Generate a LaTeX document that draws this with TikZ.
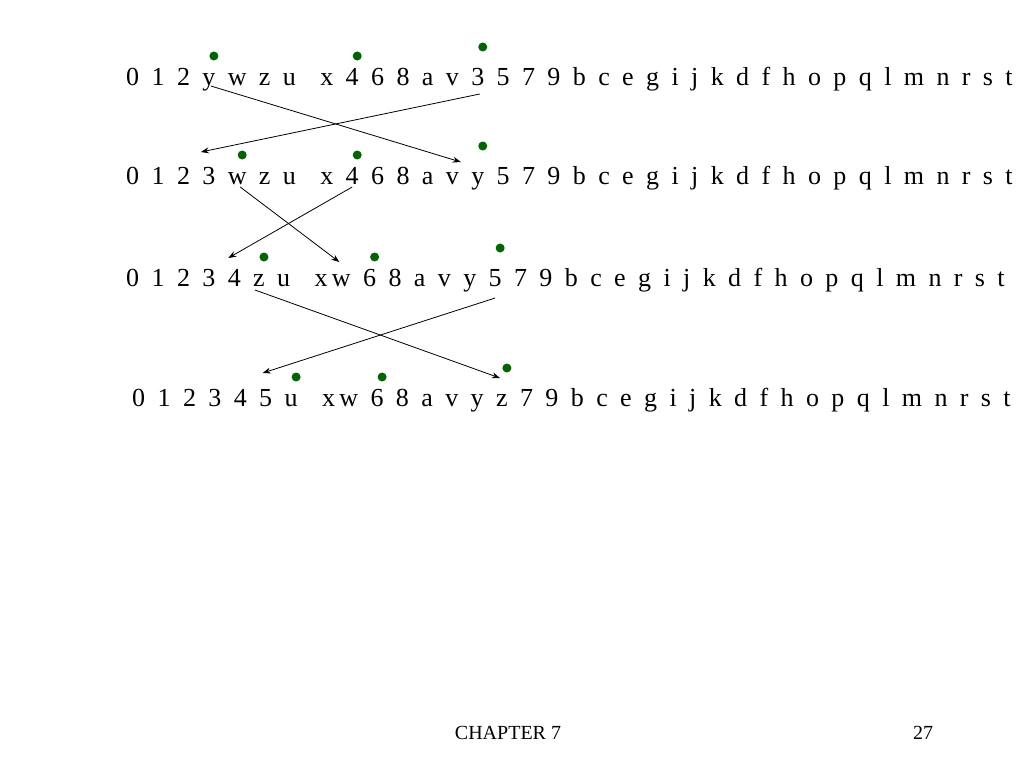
\documentclass[tikz,border=0pt]{standalone}
\usepackage{fontspec}
\setmainfont{Liberation Serif}
\usetikzlibrary{positioning, arrows.meta}

% one row of letters, one node per letter
\newcommand{\letterrow}[6]{%
    \foreach \c [count=\i] in {#4} {
        \pgfmathtruncatemacro{\prev}{\i-1}
        \ifnum\i=1
            \node[letter, anchor=base west] (#1-\i) at (#2,#3) {\c};
        \else
            \ifnum\i=#5
                \node[letter, base right=24pt of #1-\prev] (#1-\i) {\c};
            \else\ifnum\i=#6
                \node[letter, base right=4pt of #1-\prev] (#1-\i) {\c};
            \else
                \node[letter, base right=12pt of #1-\prev] (#1-\i) {\c};
            \fi\fi
        \fi
    }%
}

\begin{document}
\begin{tikzpicture}[
            x=1pt, y=-1pt,
            >={Stealth[length=8pt, width=6pt]},
            letter/.style={inner sep=0pt, font=\fontsize{26}{30}\selectfont},
            mark dot/.style={circle, fill=green!40!black, minimum size=9pt, inner sep=0pt},
            move/.style={->, thick},
        ]
            \useasboundingbox (0,0) rectangle (1024,768);

            % the four rows
            \letterrow{r1}{126}{85}{0,1,2,y,w,z,u,x,4,6,8,a,v,3,5,7,9,b,c,e,g,i,j,k,d,f,h,o,p,q,l,m,n,r,s,t}{8}{0}
            \letterrow{r2}{126}{184}{0,1,2,3,w,z,u,x,4,6,8,a,v,y,5,7,9,b,c,e,g,i,j,k,d,f,h,o,p,q,l,m,n,r,s,t}{8}{0}
            \letterrow{r3}{126}{286}{0,1,2,3,4,z,u,x,w,6,8,a,v,y,5,7,9,b,c,e,g,i,j,k,d,f,h,o,p,q,l,m,n,r,s,t}{8}{9}
            \letterrow{r4}{132}{406}{0,1,2,3,4,5,u,x,w,6,8,a,v,y,z,7,9,b,c,e,g,i,j,k,d,f,h,o,p,q,l,m,n,r,s,t}{8}{9}

            % dots above the letters
            \foreach \r / \a / \b / \c in {r1/4/9/14, r2/5/9/14, r3/6/10/15, r4/7/10/15} {
                \node[mark dot] (\r-d1) at ([xshift=5pt, yshift=29pt]\r-\a.base) {};
                \node[mark dot] (\r-d2) at ([xshift=5pt, yshift=29pt]\r-\b.base) {};
                \node[mark dot] (\r-d3) at ([xshift=5pt, yshift=38pt]\r-\c.base) {};
            }

            % swaps
            \draw[move] ([xshift=2pt, yshift=-1pt]r1-4.base) -- ([xshift=-17pt, yshift=22pt]r2-14.base);
            \draw[move] ([xshift=2pt, yshift=-9pt]r1-14.base) -- ([xshift=-8pt, yshift=32pt]r2-4.base);
            \draw[move] ([xshift=3pt, yshift=-3pt]r2-5.base) -- ([xshift=-2pt, yshift=24pt]r3-9.base);
            \draw[move] ([yshift=-3pt]r2-9.base) -- ([xshift=-6pt, yshift=28pt]r3-5.base);
            \draw[move] ([xshift=-4pt, yshift=-4pt]r3-6.base) -- ([xshift=-2pt, yshift=28pt]r4-15.base);
            \draw[move] ([yshift=-12pt]r3-15.base) -- ([xshift=-3pt, yshift=33pt]r4-6.base);

            % footer
            \node[font=\fontsize{20}{24}\selectfont] (chapter) at (508,733) {CHAPTER 7};
            \node[font=\fontsize{20}{24}\selectfont] (page) at (923,733) {27};
        \end{tikzpicture}
\end{document}
